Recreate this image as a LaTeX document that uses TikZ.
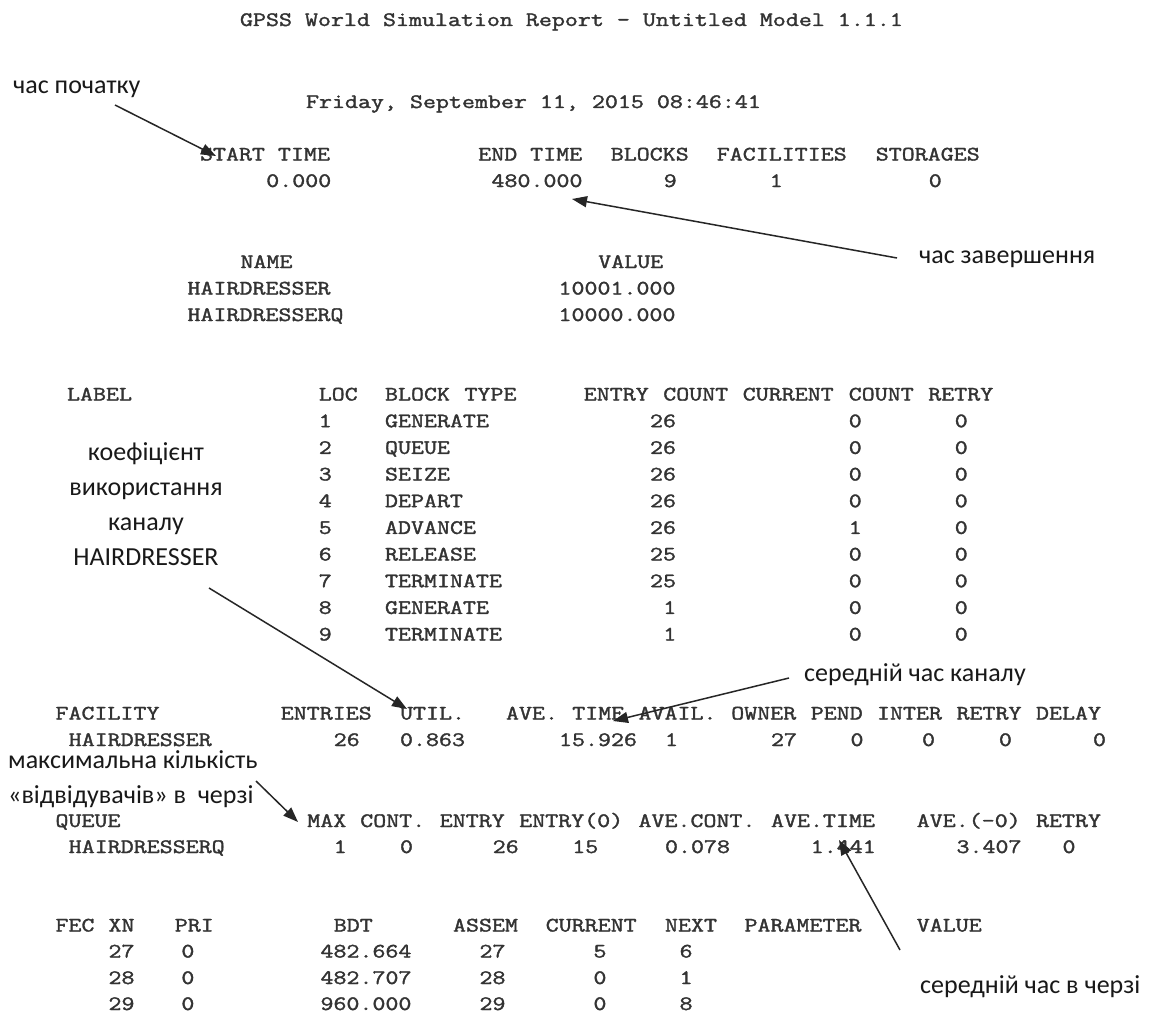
\documentclass[tikz,border=0pt]{standalone}
\usepackage{fontspec}
\setmainfont{Carlito}
\usepackage{graphicx}
\usetikzlibrary{arrows.meta}
\newcommand\cw{13.25}
\newcommand\mt[1]{\scalebox{1.231}[1]{\special{pdf:literal 2 Tr 0.3 w}\ttfamily\fontsize{20.5}{24}\selectfont\frenchspacing #1\special{pdf:literal 0 Tr}}}
\tikzset{
  mono/.style={anchor=base west, inner sep=0pt, outer sep=0pt, text=black!80},
  note/.style={anchor=base west, inner sep=0pt, font=\fontsize{26}{30}\selectfont, text=black!90},
  notec/.style={anchor=base, inner sep=0pt, font=\fontsize{26}{30}\selectfont, text=black!90},
  arr/.style={draw=black!85, line width=1.5pt, -{Triangle[length=15pt,width=11pt]}},
}
\newcommand\mrow[4]{\foreach \col/\txt [count=\i] in {#4}{\node[mono] (#1-\i) at ({#2+\col*\cw},#3) {\mt{\txt}};}}
\begin{document}
\begin{tikzpicture}[x=1pt,y=-1pt]
\fill[white] (0,0) rectangle (1158,1014);
\useasboundingbox (0,0) rectangle (1158,1014);

% title and date
\node[mono] (title) at (240,26) {\mt{GPSS World Simulation Report - Untitled Model 1.1.1}};
\node[mono] (date) at (306,108) {\mt{Friday, September 11, 2015 08:46:41}};

% start / end time
\mrow{sh}{200}{160.5}{0/START TIME, 21/END TIME, 31/BLOCKS, 39/FACILITIES, 51/STORAGES}
\mrow{sv}{200}{187}{5/0.000, 22/480.000, 35/9, 43/1, 55/0}

% names
\mrow{nh}{187.5}{268}{4/NAME, 31/VALUE}
\mrow{n1}{187.5}{294.5}{0/HAIRDRESSER, 28/10001.000}
\mrow{n2}{187.5}{321}{0/HAIRDRESSERQ, 28/10000.000}

% blocks
\mrow{bh}{67}{400.5}{0/LABEL, 19/LOC, 24/BLOCK, 30/TYPE, 39/ENTRY, 45/COUNT, 51/CURRENT, 59/COUNT, 65/RETRY}
\mrow{b1}{67}{427.2}{19/1, 24/GENERATE, 44/26, 59/0, 67/0}
\mrow{b2}{67}{453.9}{19/2, 24/QUEUE, 44/26, 59/0, 67/0}
\mrow{b3}{67}{480.5}{19/3, 24/SEIZE, 44/26, 59/0, 67/0}
\mrow{b4}{67}{507.2}{19/4, 24/DEPART, 44/26, 59/0, 67/0}
\mrow{b5}{67}{533.9}{19/5, 24/ADVANCE, 44/26, 59/1, 67/0}
\mrow{b6}{67}{560.5}{19/6, 24/RELEASE, 44/25, 59/0, 67/0}
\mrow{b7}{67}{587.2}{19/7, 24/TERMINATE, 44/25, 59/0, 67/0}
\mrow{b8}{67}{613.9}{19/8, 24/GENERATE, 45/1, 59/0, 67/0}
\mrow{b9}{67}{640.5}{19/9, 24/TERMINATE, 45/1, 59/0, 67/0}

% facility
\mrow{fh}{55.5}{719.5}{0/FACILITY, 17/ENTRIES, 26/UTIL., 34/AVE., 39/TIME, 44/AVAIL., 51/OWNER, 57/PEND, 62/INTER, 68/RETRY, 74/DELAY}
\mrow{fv}{55.5}{746}{1/HAIRDRESSER, 21/26, 26/0.863, 38/15.926, 46/1, 54/27, 60/0, 65.4/0, 71.2/0, 78.3/0}

% queue
\mrow{qh}{55.5}{827}{0/QUEUE, 19/MAX, 23/CONT., 29/ENTRY, 35/ENTRY(0), 44/AVE.CONT., 54/AVE.TIME, 65/AVE.(-0), 74/RETRY}
\mrow{qv}{55.5}{853}{1/HAIRDRESSERQ, 21/1, 26/0, 33/26, 39/15, 46/0.078, 57/1.441, 68/3.407, 76/0}

% FEC
\mrow{eh}{55.5}{931.5}{0/FEC, 4/XN, 9/PRI, 21/BDT, 30/ASSEM, 37/CURRENT, 46/NEXT, 52/PARAMETER, 65/VALUE}
\mrow{e1}{55.5}{957.5}{4/27, 9.5/0, 20/482.664, 32/27, 40.6/5, 47.1/6}
\mrow{e2}{55.5}{984}{4/28, 9.5/0, 20/482.707, 32/28, 40.6/0, 47.1/1}
\mrow{e3}{55.5}{1010}{4/29, 9.5/0, 20/960.000, 32/29, 40.6/0, 47.1/8}

% annotations
\node[note] (tstart) at (13,93.5) {час початку};
\node[note] (tend) at (919,263) {час завершення};
\node[notec] (k1) at (146,460) {коефіцієнт};
\node[notec] (k2) at (146,495) {використання};
\node[notec] (k3) at (146,530.5) {каналу};
\node[notec] (k4) at (146,565.5) {HAIRDRESSER};
\node[note] (avgch) at (804,681) {середній час каналу};
\node[note] (mx1) at (8,768) {максимальна кількість};
\node[note] (mx2) at (8,803) {«відвідувачів» в~ черзі};
\node[note] (avgq) at (920,993) {середній час в черзі};

% arrow end points
\coordinate (a1s) at (115,105);  \coordinate (a1e) at (216,156);
\coordinate (a2s) at (897,258);  \coordinate (a2e) at (572,199);
\coordinate (a3s) at (209,588);  \coordinate (a3e) at (407,709);
\coordinate (a4s) at (789,678);  \coordinate (a4e) at (613,721);
\coordinate (a5s) at (256,781);  \coordinate (a5e) at (298,822);
\coordinate (a6s) at (900,950);  \coordinate (a6e) at (839,840);

\draw[arr] (a1s) -- (a1e);
\draw[arr] (a2s) -- (a2e);
\draw[arr] (a3s) -- (a3e);
\draw[arr] (a4s) -- (a4e);
\draw[arr] (a5s) -- (a5e);
\draw[arr] (a6s) -- (a6e);
\end{tikzpicture}
\end{document}
